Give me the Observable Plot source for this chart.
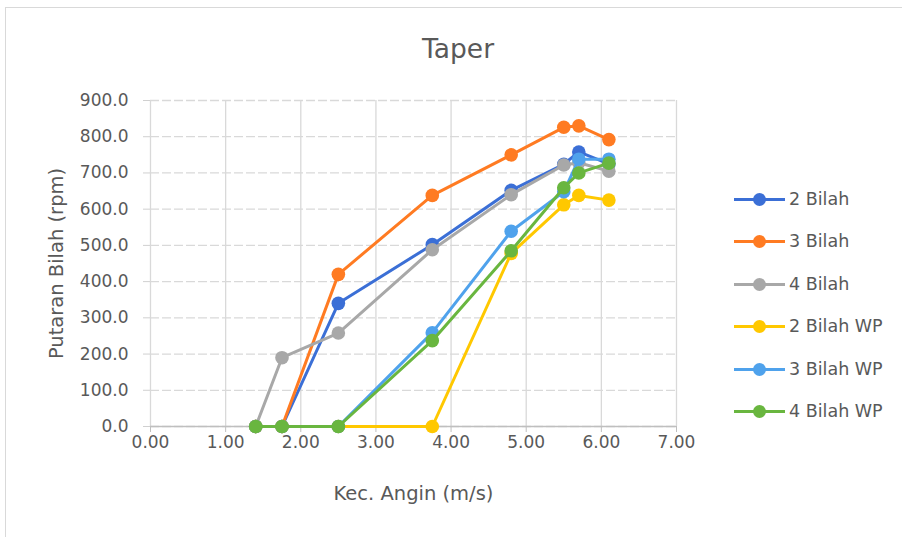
<!DOCTYPE html>
<html>
<head>
<meta charset="utf-8">
<script src="https://cdn.jsdelivr.net/npm/d3@7"></script>
<script src="https://cdn.jsdelivr.net/npm/@observablehq/plot@0.6"></script>
<style>
  html, body { margin: 0; padding: 0; background: #fff; }
  #wrap { position: relative; width: 902px; height: 537px; overflow: hidden; font-family: "DejaVu Sans", sans-serif; color: #595959; }
  #frame { position: absolute; left: 5px; top: 7px; width: 910px; height: 540px; border-left: 1px solid #d9d9d9; border-top: 1px solid #d9d9d9; }
  #title { position: absolute; left: 0; width: 916px; top: 32px; text-align: center; font-size: 26.5px; line-height: 34px; color: #595959; }
  #chart { position: absolute; left: 0; top: 0; }
  #legend { position: absolute; left: 730px; top: 0; }
  .item { position: absolute; left: 0; height: 20px; width: 172px; font-size: 17.5px; line-height: 20px; white-space: nowrap; }
  .item svg { position: absolute; left: 0; top: 0; }
  .item span { position: absolute; left: 59px; top: 0px; }
</style>
</head>
<body>
<div id="wrap">
  <div id="frame"></div>
  <div id="chart"></div>
  <div id="title">Taper</div>
  <div id="legend"></div>
</div>
<script>
const speed = [1.40, 1.75, 2.50, 3.75, 4.80, 5.50, 5.70, 6.10];
const seriesNames = ["2 Bilah", "3 Bilah", "4 Bilah", "2 Bilah WP", "3 Bilah WP", "4 Bilah WP"];
const bilah2   = [0, 0, 340, 502, 652, 724, 758, 725];
const bilah3   = [0, 0, 420, 638, 750, 826, 830, 792];
const bilah4   = [0, 190, 258, 488, 640, 722, 728, 705];
const bilah2WP = [0, 0, 0, 0, 478, 612, 638, 625];
const bilah3WP = [0, 0, 0, 259, 539, 648, 738, 738];
const bilah4WP = [0, 0, 0, 237, 485, 659, 700, 727];
const seriesColors = ["#3B6FD6", "#FF7B22", "#A8A8A8", "#FFC800", "#4FA2EC", "#69B63F"];
const xTicks = [0, 1, 2, 3, 4, 5, 6, 7];
const yTicks = [0, 100, 200, 300, 400, 500, 600, 700, 800, 900];
const xLabel = "Kec. Angin (m/s)";
const yLabel = "Putaran Bilah (rpm)";

const values = [bilah2, bilah3, bilah4, bilah2WP, bilah3WP, bilah4WP];
const rows = [];
seriesNames.forEach((name, i) => {
  speed.forEach((s, j) => rows.push({series: name, speed: s, rpm: values[i][j]}));
});

const marks = [
  Plot.gridY(yTicks, {stroke: "#d9d9d9", strokeOpacity: 1, strokeWidth: 1.3, strokeDasharray: "9,3"}),
  Plot.gridX(xTicks, {stroke: "#d9d9d9", strokeOpacity: 1, strokeWidth: 1.3}),
  Plot.axisY(yTicks, {tickFormat: d => d.toFixed(1), tickSize: 7, tickPadding: 15, stroke: "#d0d0d0",
    fontSize: 17, fill: "#595959", label: null}),
  Plot.axisX(xTicks, {tickFormat: d => d.toFixed(2), tickSize: 6, tickPadding: 3, stroke: "#bfbfbf",
    fontSize: 17, fill: "#595959", label: null}),
  Plot.ruleY([0], {stroke: "#bfbfbf", strokeWidth: 1.6}),
  Plot.text([xLabel], {text: d => d, frameAnchor: "bottom", lineAnchor: "middle", textAnchor: "middle", dy: 67, fontSize: 19.5, fill: "#595959"}),
  Plot.text([yLabel], {text: d => d, frameAnchor: "left", lineAnchor: "middle", textAnchor: "middle", dx: -94, rotate: -90, fontSize: 19.5, fill: "#595959"})
];
seriesNames.forEach(name => {
  const d = rows.filter(r => r.series === name);
  marks.push(Plot.line(d, {x: "speed", y: "rpm", stroke: "series", strokeWidth: 3}));
  marks.push(Plot.dot(d, {x: "speed", y: "rpm", fill: "series", r: 6.8}));
});

const chart = Plot.plot({
  width: 902,
  height: 537,
  marginLeft: 150,
  marginRight: 226,
  marginTop: 100,
  marginBottom: 111,
  style: {fontFamily: "DejaVu Sans, sans-serif", fontSize: "17px", color: "#595959", background: "transparent"},
  x: {domain: [0, 7]},
  y: {domain: [0, 900]},
  color: {domain: seriesNames, range: seriesColors},
  marks
});
document.getElementById("chart").appendChild(chart);

// legend
const legend = document.getElementById("legend");
const legendTops = [189, 231, 274, 316, 359, 401];
seriesNames.forEach((name, i) => {
  const item = document.createElement("div");
  item.className = "item";
  item.style.top = legendTops[i] + "px";
  const sw = Plot.plot({
    width: 58, height: 20, margin: 0,
    x: {domain: [0, 58], axis: null},
    y: {domain: [0, 20], axis: null},
    color: {domain: seriesNames, range: seriesColors},
    style: {background: "transparent"},
    marks: [
      Plot.ruleY([{series: name, y: 10}], {y: "y", x1: 4, x2: 55, stroke: "series", strokeWidth: 3}),
      Plot.dot([{series: name, x: 29, y: 10}], {x: "x", y: "y", fill: "series", r: 6.5})
    ]
  });
  item.appendChild(sw);
  const span = document.createElement("span");
  span.textContent = name;
  item.appendChild(span);
  legend.appendChild(item);
});
</script>
</body>
</html>
